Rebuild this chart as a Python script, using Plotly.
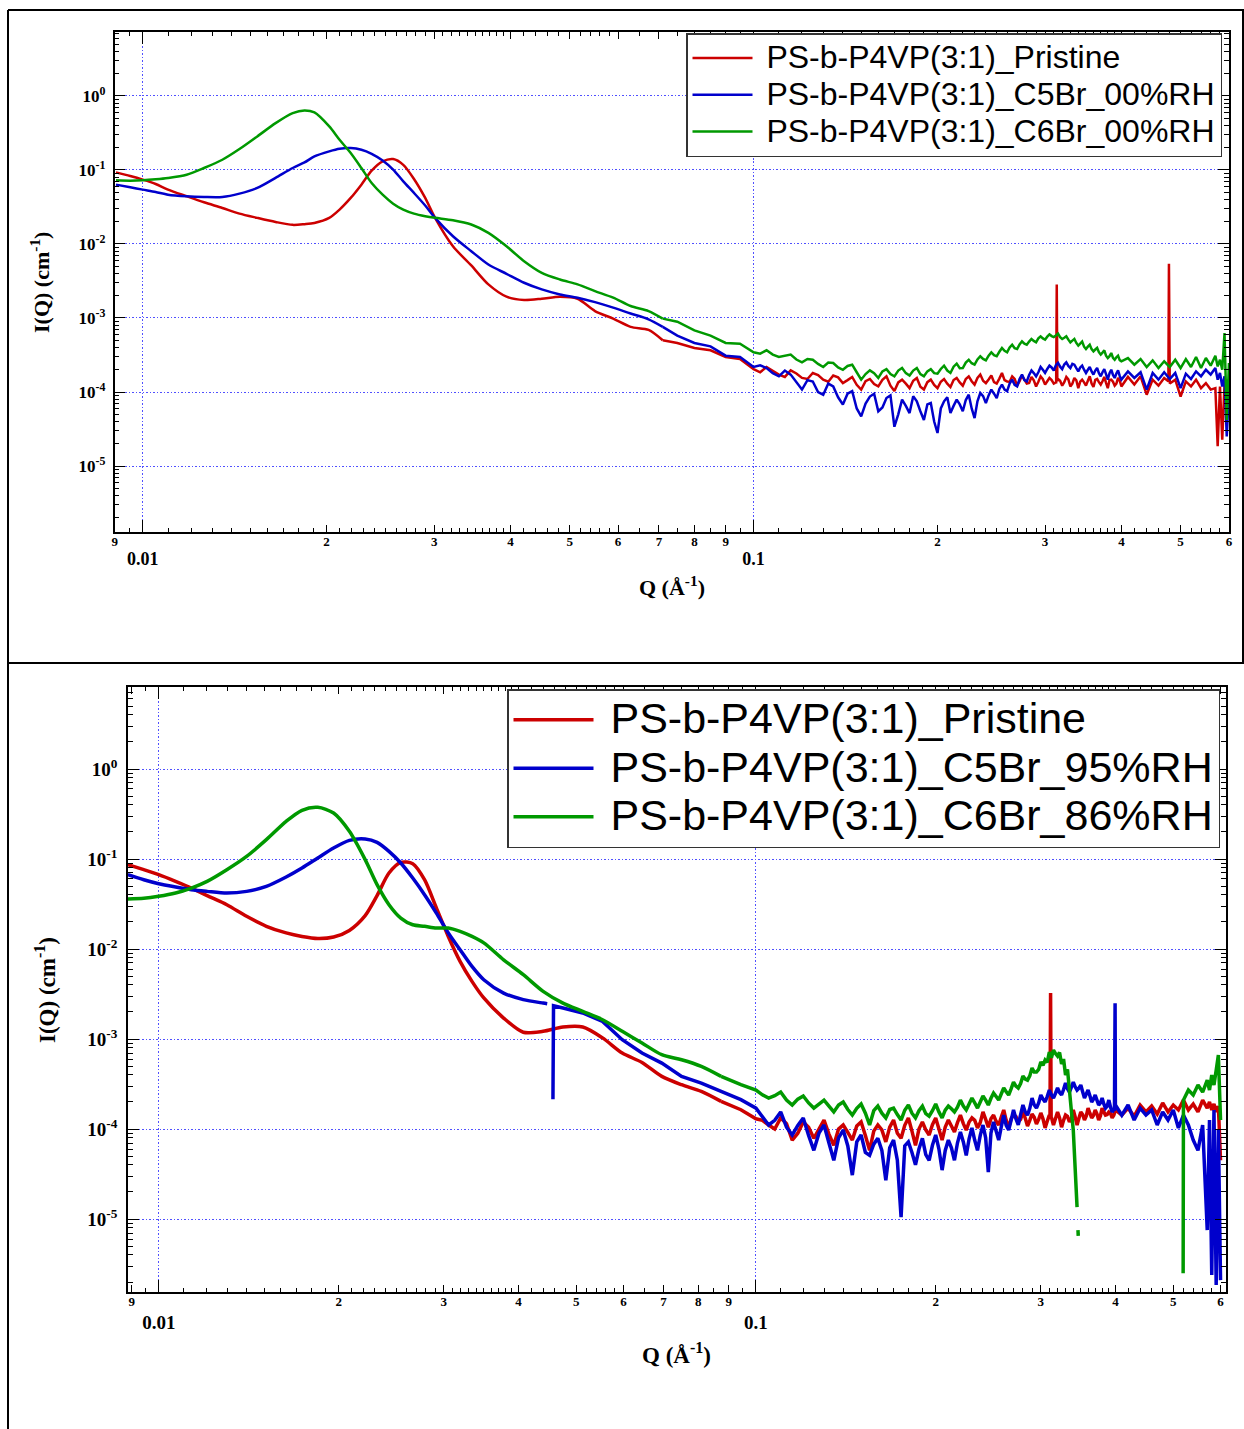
import plotly.graph_objects as go

# ---------------- data : top panel (dry, 00%RH) ----------------
Q_TOP_LOW = [0.00904, 0.00954, 0.0100, 0.0105, 0.0110, 0.0118, 0.0126, 0.0135, 0.0144, 0.0154,
             0.0165, 0.0176, 0.0184, 0.0191, 0.0202, 0.0210, 0.0219, 0.0228, 0.0237, 0.0247,
             0.0257, 0.0267, 0.0278, 0.0290, 0.0301, 0.0322, 0.0345, 0.0368, 0.0394, 0.0421,
             0.0450, 0.0482, 0.0515, 0.0550, 0.0589, 0.0629, 0.0673, 0.0710]
RED_TOP_LOW = [0.0926, 0.0826, 0.0738, 0.0645, 0.0541, 0.0440, 0.0365, 0.0306, 0.0257, 0.0225,
               0.0198, 0.0181, 0.0185, 0.0192, 0.0225, 0.0291, 0.0418, 0.0632, 0.0975, 0.130,
               0.140, 0.117, 0.0753, 0.0418, 0.0225, 0.0093, 0.00512, 0.00284, 0.00194, 0.00175,
               0.00182, 0.00194, 0.00182, 0.00124, 0.00098, 0.00076, 0.00069, 0.00050]
BLUE_TOP_LOW = [0.0632, 0.0582, 0.0541, 0.0503, 0.0463, 0.0440, 0.0431, 0.0431, 0.0478, 0.057,
                0.078, 0.106, 0.126, 0.152, 0.178, 0.193, 0.197, 0.187, 0.165, 0.134,
                0.101, 0.070, 0.0488, 0.033, 0.0225, 0.0127, 0.00798, 0.00527, 0.00395, 0.00299,
                0.00243, 0.00208, 0.00188, 0.00164, 0.00138, 0.00115, 0.00096, 0.00076]
GREEN_TOP_LOW = [0.0723, 0.0715, 0.0723, 0.0745, 0.0777, 0.0861, 0.106, 0.137, 0.191, 0.283,
                 0.428, 0.584, 0.634, 0.596, 0.386, 0.255, 0.169, 0.106, 0.0665, 0.0463,
                 0.035, 0.0291, 0.0257, 0.0237, 0.0225, 0.0209, 0.0183, 0.0141, 0.0093, 0.00585,
                 0.00407, 0.00331, 0.00284, 0.00231, 0.00188, 0.00145, 0.00124, 0.00098]

Q_TOP_HIGH = [0.075, 0.08, 0.085, 0.09, 0.095,
              0.1, 0.105, 0.11, 0.115, 0.12, 0.125, 0.13, 0.135, 0.14, 0.145,
              0.15, 0.155, 0.16, 0.165, 0.17, 0.175, 0.18, 0.185, 0.19, 0.195,
              0.2, 0.205, 0.21, 0.215, 0.22, 0.225, 0.23, 0.235, 0.24, 0.245,
              0.25, 0.255, 0.26, 0.265, 0.27, 0.275, 0.28, 0.285, 0.29, 0.295,
              0.3, 0.305, 0.31, 0.315, 0.32, 0.325, 0.33, 0.335, 0.34, 0.345,
              0.35, 0.355, 0.36, 0.365, 0.37, 0.375, 0.38, 0.385, 0.39, 0.395,
              0.4, 0.41, 0.42, 0.43, 0.44, 0.45, 0.46, 0.47, 0.48, 0.49,
              0.5, 0.51, 0.52, 0.53, 0.54, 0.55, 0.56, 0.57, 0.575, 0.58,
              0.585, 0.59, 0.595, 0.6]
RED_TOP_HIGH = [4.60e-4, 3.94e-4, 3.66e-4, 2.98e-4, 2.79e-4,
                2.04e-4, 2.18e-4, 1.72e-4, 1.96e-4, 1.55e-4, 1.81e-4, 1.47e-4, 1.67e-4, 1.32e-4, 1.60e-4,
                1.08e-4, 1.50e-4, 1.19e-4, 1.63e-4, 1.03e-4, 1.47e-4, 1.13e-4, 1.55e-4, 1.08e-4, 1.47e-4,
                1.13e-4, 1.50e-4, 1.17e-4, 1.55e-4, 1.22e-4, 1.63e-4, 1.26e-4, 1.72e-4, 1.32e-4, 1.67e-4,
                1.30e-4, 1.81e-4, 1.39e-4, 1.63e-4, 1.22e-4, 1.67e-4, 1.30e-4, 1.60e-4, 1.19e-4, 1.63e-4,
                1.26e-4, 1.55e-4, 1.30e-4, 1.50e-4, 1.22e-4, 1.60e-4, 1.19e-4, 1.55e-4, 1.13e-4, 1.47e-4,
                1.22e-4, 1.63e-4, 1.17e-4, 1.50e-4, 1.26e-4, 1.60e-4, 1.13e-4, 1.47e-4, 1.22e-4, 1.55e-4,
                1.19e-4, 1.60e-4, 1.26e-4, 1.63e-4, 9.2e-5, 1.47e-4, 1.22e-4, 1.55e-4, 1.30e-4, 1.47e-4,
                8.7e-5, 1.39e-4, 1.19e-4, 1.47e-4, 1.13e-4, 1.32e-4, 1.08e-4, 1.13e-4, 1.85e-5, 1.19e-4,
                2.27e-5, 1.26e-4, 1.47e-4, 1.08e-4]
BLUE_TOP_HIGH = [5.77e-4, 4.60e-4, 4.14e-4, 3.10e-4, 2.97e-4,
                 2.18e-4, 2.11e-4, 1.63e-4, 1.72e-4, 1.08e-4, 1.39e-4, 9.2e-5, 1.19e-4, 6.8e-5, 1.03e-4,
                 4.7e-5, 8.7e-5, 5.5e-5, 8.3e-5, 3.4e-5, 7.9e-5, 5.2e-5, 7.5e-5, 4.2e-5, 7.1e-5,
                 2.8e-5, 7.5e-5, 5.2e-5, 7.9e-5, 5.5e-5, 9.2e-5, 4.45e-5, 9.7e-5, 7.1e-5, 1.08e-4,
                 8.3e-5, 1.26e-4, 1.03e-4, 1.47e-4, 1.19e-4, 1.72e-4, 1.39e-4, 1.96e-4, 1.63e-4, 2.18e-4,
                 1.81e-4, 2.27e-4, 1.96e-4, 2.47e-4, 2.04e-4, 2.52e-4, 2.11e-4, 2.34e-4, 1.90e-4, 2.27e-4,
                 1.81e-4, 2.18e-4, 1.72e-4, 2.11e-4, 1.63e-4, 2.04e-4, 1.47e-4, 2.00e-4, 1.55e-4, 1.96e-4,
                 1.47e-4, 1.90e-4, 1.55e-4, 1.85e-4, 1.08e-4, 1.81e-4, 1.47e-4, 1.85e-4, 1.50e-4, 1.81e-4,
                 1.13e-4, 1.77e-4, 1.50e-4, 1.90e-4, 1.63e-4, 2.00e-4, 1.72e-4, 2.11e-4, 1.47e-4, 1.81e-4,
                 1.19e-4, 1.63e-4, 2.52e-5, 1.08e-4]
GREEN_TOP_HIGH = [8.9e-4, 6.8e-4, 5.77e-4, 4.60e-4, 4.50e-4,
                  3.44e-4, 3.66e-4, 2.97e-4, 3.20e-4, 2.52e-4, 2.73e-4, 2.18e-4, 2.47e-4, 2.00e-4, 2.34e-4,
                  1.47e-4, 1.96e-4, 1.55e-4, 2.04e-4, 1.63e-4, 2.11e-4, 1.67e-4, 2.11e-4, 1.63e-4, 2.04e-4,
                  1.77e-4, 2.27e-4, 1.81e-4, 2.42e-4, 2.11e-4, 2.73e-4, 2.34e-4, 3.04e-4, 2.68e-4, 3.44e-4,
                  3.04e-4, 3.94e-4, 3.44e-4, 4.36e-4, 3.81e-4, 4.84e-4, 4.36e-4, 5.20e-4, 4.69e-4, 5.65e-4,
                  5.10e-4, 6.01e-4, 5.53e-4, 6.14e-4, 5.20e-4, 5.65e-4, 4.69e-4, 5.20e-4, 4.23e-4, 4.79e-4,
                  3.81e-4, 4.36e-4, 3.55e-4, 3.94e-4, 3.20e-4, 3.66e-4, 2.88e-4, 3.37e-4, 2.73e-4, 3.10e-4,
                  2.60e-4, 2.88e-4, 2.34e-4, 2.79e-4, 2.18e-4, 2.68e-4, 2.11e-4, 2.60e-4, 2.18e-4, 2.73e-4,
                  2.11e-4, 2.79e-4, 2.18e-4, 2.97e-4, 2.11e-4, 2.88e-4, 2.27e-4, 3.10e-4, 2.22e-4, 2.73e-4,
                  2.00e-4, 6.27e-4, 4.2e-5, 2.47e-4]

# in-between scattering points 0.1025 ... 0.3975 (shared q for both panels)
Q_MID = [0.1025, 0.1075, 0.1125, 0.1175, 0.1225, 0.1275, 0.1325, 0.1375, 0.1425, 0.1475,
         0.1525, 0.1575, 0.1625, 0.1675, 0.1725, 0.1775, 0.1825, 0.1875, 0.1925, 0.1975,
         0.2025, 0.2075, 0.2125, 0.2175, 0.2225, 0.2275, 0.2325, 0.2375, 0.2425, 0.2475,
         0.2525, 0.2575, 0.2625, 0.2675, 0.2725, 0.2775, 0.2825, 0.2875, 0.2925, 0.2975,
         0.3025, 0.3075, 0.3125, 0.3175, 0.3225, 0.3275, 0.3325, 0.3375, 0.3425, 0.3475,
         0.3525, 0.3575, 0.3625, 0.3675, 0.3725, 0.3775, 0.3825, 0.3875, 0.3925, 0.3975]
RED_TOP_MID = [1.85e-4, 1.95e-4, 1.60e-4, 1.78e-4, 1.50e-4, 1.70e-4, 1.38e-4, 1.58e-4, 1.45e-4, 1.25e-4,
               1.40e-4, 1.28e-4, 1.46e-4, 1.22e-4, 1.35e-4, 1.30e-4, 1.42e-4, 1.18e-4, 1.36e-4, 1.25e-4,
               1.38e-4, 1.30e-4, 1.45e-4, 1.35e-4, 1.50e-4, 1.40e-4, 1.55e-4, 1.42e-4, 1.48e-4, 1.36e-4,
               1.52e-4, 1.45e-4, 1.38e-4, 1.50e-4, 1.40e-4, 1.47e-4, 1.33e-4, 1.44e-4, 1.38e-4, 1.49e-4,
               1.40e-4, 1.45e-4, 1.35e-4, 1.42e-4, 1.36e-4, 1.48e-4, 1.30e-4, 1.44e-4, 1.38e-4, 1.35e-4,
               1.42e-4, 1.30e-4, 1.46e-4, 1.36e-4, 1.40e-4, 1.33e-4, 1.45e-4, 1.38e-4, 1.30e-4, 1.42e-4]
BLUE_TOP_MID = [2.3e-4, 1.8e-4, 1.95e-4, 1.35e-4, 1.45e-4, 1.0e-4, 1.3e-4, 8.5e-5, 9.5e-5, 6.0e-5,
                7.0e-5, 9.5e-5, 6.2e-5, 9.0e-5, 5.0e-5, 6.5e-5, 8.8e-5, 5.5e-5, 6.8e-5, 4.0e-5,
                6.0e-5, 8.5e-5, 6.5e-5, 6.8e-5, 7.8e-5, 6.0e-5, 7.5e-5, 8.8e-5, 9.0e-5, 9.5e-5,
                1.10e-4, 1.08e-4, 1.30e-4, 1.25e-4, 1.50e-4, 1.45e-4, 1.70e-4, 1.80e-4, 1.85e-4, 2.0e-4,
                2.05e-4, 2.15e-4, 2.3e-4, 2.2e-4, 2.35e-4, 2.25e-4, 2.4e-4, 2.1e-4, 2.15e-4, 2.0e-4,
                2.0e-4, 1.9e-4, 1.95e-4, 1.8e-4, 1.85e-4, 1.75e-4, 1.8e-4, 1.7e-4, 1.78e-4, 1.65e-4]
GREEN_TOP_MID = [3.3e-4, 3.2e-4, 3.1e-4, 2.75e-4, 2.8e-4, 2.4e-4, 2.5e-4, 2.15e-4, 2.25e-4, 1.85e-4,
                 1.75e-4, 1.8e-4, 1.9e-4, 1.75e-4, 1.95e-4, 1.8e-4, 1.95e-4, 1.75e-4, 1.9e-4, 1.8e-4,
                 2.05e-4, 1.95e-4, 2.2e-4, 2.1e-4, 2.5e-4, 2.45e-4, 2.75e-4, 2.8e-4, 3.1e-4, 3.15e-4,
                 3.5e-4, 3.6e-4, 4.0e-4, 3.9e-4, 4.4e-4, 4.5e-4, 4.8e-4, 4.9e-4, 5.3e-4, 5.3e-4,
                 5.6e-4, 5.7e-4, 5.8e-4, 5.5e-4, 5.4e-4, 5.1e-4, 4.95e-4, 4.6e-4, 4.5e-4, 4.1e-4,
                 4.1e-4, 3.8e-4, 3.75e-4, 3.45e-4, 3.4e-4, 3.1e-4, 3.05e-4, 2.9e-4, 2.95e-4, 2.7e-4]
RED_TOP_SPIKE_Q = [0.3128, 0.3135, 0.3142, 0.4775, 0.4785, 0.4795]
RED_TOP_SPIKE_I = [1.3e-4, 2.84e-3, 1.4e-4, 1.4e-4, 5.4e-3, 1.4e-4]

# ---------------- data : bottom panel (humid) ----------------
Q_BOT_LOW = [0.00887, 0.00943, 0.00999, 0.01066, 0.01133, 0.01204, 0.01299, 0.01402, 0.01513, 0.01633,
             0.01736, 0.01845, 0.01961, 0.02084, 0.02215, 0.02319, 0.02428, 0.02541, 0.02661, 0.02785,
             0.02915, 0.03052, 0.03194, 0.03344, 0.03500, 0.03778, 0.04076, 0.04400, 0.04750, 0.05126,
             0.05533, 0.05970, 0.06443, 0.06954, 0.07505, 0.08099, 0.08741, 0.09434]
RED_BOT_LOW = [0.0865, 0.0761, 0.0670, 0.0565, 0.0476, 0.0392, 0.0311, 0.0231, 0.0179, 0.0151,
               0.0138, 0.0131, 0.0136, 0.0161, 0.0235, 0.0392, 0.0699, 0.0918, 0.0888, 0.0589,
               0.0286, 0.0138, 0.0073, 0.00437, 0.00286, 0.00171, 0.00119, 0.00122, 0.00136, 0.00136,
               0.00103, 0.000699, 0.00055, 0.000385, 0.000311, 0.000262, 0.000203, 0.000164]
BLUE_BOT_LOW = [0.0670, 0.0589, 0.0532, 0.0489, 0.0456, 0.0437, 0.0419, 0.0437, 0.0497, 0.0631,
                0.0794, 0.1026, 0.1324, 0.161, 0.167, 0.153, 0.1216, 0.0903, 0.0615, 0.0402,
                0.0251, 0.0151, 0.00984, 0.00641, 0.00456, 0.00324, 0.00274, 0.00251, 0.00221, 0.00195,
                0.00157, 0.000984, 0.000699, 0.000541, 0.000385, 0.000324, 0.000262, 0.000212]
GREEN_BOT_LOW = [0.0360, 0.0366, 0.0385, 0.0419, 0.0476, 0.0565, 0.0761, 0.107, 0.164, 0.262,
                 0.348, 0.375, 0.324, 0.203, 0.0984, 0.0519, 0.0311, 0.0221, 0.0186, 0.0179,
                 0.0171, 0.0171, 0.0157, 0.0138, 0.0117, 0.0076, 0.00519, 0.00339, 0.00251, 0.00203,
                 0.00164, 0.00122, 0.000904, 0.00067, 0.000589, 0.000497, 0.000385, 0.000311]

Q_BOT_HIGH = [0.1, 0.105, 0.11, 0.115, 0.12, 0.125, 0.13, 0.135, 0.14, 0.145,
              0.15, 0.155, 0.16, 0.165, 0.17, 0.175, 0.18, 0.185, 0.19, 0.195,
              0.2, 0.205, 0.21, 0.215, 0.22, 0.225, 0.23, 0.235, 0.24, 0.245,
              0.25, 0.255, 0.26, 0.265, 0.27, 0.275, 0.28, 0.285, 0.29, 0.295,
              0.3, 0.305, 0.31, 0.315, 0.32, 0.325, 0.33, 0.335, 0.34, 0.345,
              0.35, 0.355, 0.36, 0.365, 0.37, 0.375, 0.38, 0.385, 0.39, 0.395,
              0.4, 0.41, 0.42, 0.43, 0.44, 0.45, 0.46, 0.47, 0.48, 0.49,
              0.5, 0.51, 0.52, 0.53, 0.54, 0.55, 0.56, 0.57,
              0.575, 0.58, 0.585, 0.59, 0.595, 0.6]
RED_BOT_HIGH = [1.30e-4, 1.11e-4, 1.33e-4, 7.55e-5, 1.20e-4, 7.9e-5, 1.26e-4, 6.6e-5, 1.11e-4, 7.55e-5,
                1.20e-4, 5.8e-5, 1.11e-4, 7.2e-5, 1.26e-4, 7.9e-5, 1.33e-4, 6.6e-5, 1.20e-4, 8.6e-5,
                1.33e-4, 7.55e-5, 1.26e-4, 9.3e-5, 1.43e-4, 9.75e-5, 1.33e-4, 1.03e-4, 1.55e-4, 1.05e-4,
                1.43e-4, 1.11e-4, 1.63e-4, 1.03e-4, 1.43e-4, 1.20e-4, 1.55e-4, 1.08e-4, 1.47e-4, 1.14e-4,
                1.51e-4, 1.03e-4, 1.43e-4, 1.11e-4, 1.55e-4, 1.05e-4, 1.43e-4, 1.20e-4, 1.63e-4, 1.11e-4,
                1.55e-4, 1.26e-4, 1.71e-4, 1.33e-4, 1.63e-4, 1.26e-4, 1.71e-4, 1.43e-4, 1.55e-4, 1.33e-4,
                1.63e-4, 1.43e-4, 1.71e-4, 1.39e-4, 1.85e-4, 1.55e-4, 1.80e-4, 1.47e-4, 1.95e-4, 1.55e-4,
                1.85e-4, 1.63e-4, 2.10e-4, 1.63e-4, 1.90e-4, 1.55e-4, 2.10e-4, 1.71e-4,
                2.0e-4, 1.63e-4, 1.90e-4, 1.55e-4, 1.80e-4, 4.5e-5]
BLUE_BOT_HIGH = [1.71e-4, 1.11e-4, 1.55e-4, 8.6e-5, 1.33e-4, 5.8e-5, 1.11e-4, 4.5e-5, 9.75e-5, 3.08e-5,
                 8.6e-5, 5.1e-5, 7.9e-5, 2.7e-5, 7.55e-5, 1.05e-5, 7.2e-5, 4.0e-5, 7.9e-5, 4.5e-5,
                 8.6e-5, 3.5e-5, 7.55e-5, 4.5e-5, 9.3e-5, 5.1e-5, 1.03e-4, 5.8e-5, 1.11e-4, 3.33e-5,
                 1.20e-4, 7.55e-5, 1.43e-4, 9.75e-5, 1.63e-4, 1.11e-4, 1.85e-4, 1.43e-4, 2.21e-4, 1.71e-4,
                 2.39e-4, 2.0e-4, 2.71e-4, 2.21e-4, 2.86e-4, 2.39e-4, 3.24e-4, 2.58e-4, 3.33e-4, 2.71e-4,
                 3.08e-4, 2.21e-4, 2.71e-4, 2.0e-4, 2.39e-4, 1.85e-4, 2.21e-4, 1.71e-4, 2.10e-4, 1.55e-4,
                 1.85e-4, 1.43e-4, 1.85e-4, 1.26e-4, 1.71e-4, 1.43e-4, 1.63e-4, 1.11e-4, 1.55e-4, 1.26e-4,
                 1.63e-4, 1.03e-4, 1.43e-4, 1.11e-4, 7.55e-5, 5.8e-5, 1.11e-4, 7.55e-6,
                 1.26e-4, 2.39e-6, 1.63e-4, 1.85e-6, 9.75e-5, 2.1e-6]
GREEN_BOT_HIGH = [2.71e-4, 2.21e-4, 2.58e-4, 1.85e-4, 2.33e-4, 1.71e-4, 2.10e-4, 1.55e-4, 2.0e-4, 1.43e-4,
                  1.90e-4, 1.11e-4, 1.80e-4, 1.33e-4, 1.71e-4, 1.26e-4, 1.85e-4, 1.33e-4, 1.80e-4, 1.39e-4,
                  1.90e-4, 1.33e-4, 1.80e-4, 1.55e-4, 2.10e-4, 1.63e-4, 2.21e-4, 1.71e-4, 2.33e-4, 1.85e-4,
                  2.51e-4, 2.10e-4, 2.86e-4, 2.39e-4, 3.33e-4, 2.86e-4, 3.88e-4, 3.5e-4, 4.76e-4, 4.30e-4,
                  5.55e-4, 5.85e-4, 7.18e-4, 7.55e-4, 6.47e-4, 5.28e-4, 3.98e-4, 2.39e-4, 9.75e-5, 1.36e-5,
                  None, None, None, None, None, None, None, None, None, None,
                  None, None, None, None, None, None, None, None, None, None,
                  None, None, 2.10e-4, 2.71e-4, 2.39e-4, 3.08e-4, 2.58e-4, 3.5e-4,
                  2.71e-4, 3.98e-4, 3.08e-4, 4.5e-4, 6.65e-4, 1.26e-4]
RED_BOT_MID = [1.25e-4, 1.0e-4, 1.15e-4, 9.0e-5, 1.05e-4, 9.8e-5, 8.8e-5, 1.0e-4, 9.2e-5, 1.08e-4,
               8.5e-5, 9.5e-5, 9.8e-5, 1.05e-4, 9.0e-5, 1.10e-4, 9.5e-5, 1.0e-4, 9.8e-5, 1.12e-4,
               1.0e-4, 1.05e-4, 1.08e-4, 1.18e-4, 1.15e-4, 1.2e-4, 1.25e-4, 1.18e-4, 1.28e-4, 1.3e-4,
               1.22e-4, 1.35e-4, 1.25e-4, 1.3e-4, 1.38e-4, 1.28e-4, 1.32e-4, 1.25e-4, 1.35e-4, 1.28e-4,
               1.3e-4, 1.22e-4, 1.35e-4, 1.28e-4, 1.33e-4, 1.25e-4, 1.38e-4, 1.3e-4, 1.36e-4, 1.32e-4,
               1.45e-4, 1.4e-4, 1.5e-4, 1.42e-4, 1.48e-4, 1.4e-4, 1.55e-4, 1.45e-4, 1.5e-4, 1.42e-4]
BLUE_BOT_MID = [1.35e-4, 1.25e-4, 1.05e-4, 1.1e-4, 8.5e-5, 9.0e-5, 7.0e-5, 8.0e-5, 6.5e-5, 7.2e-5,
                5.5e-5, 6.8e-5, 5.8e-5, 6.2e-5, 4.5e-5, 6.5e-5, 5.5e-5, 6.0e-5, 5.2e-5, 6.6e-5,
                6.0e-5, 5.8e-5, 6.2e-5, 7.0e-5, 7.2e-5, 7.8e-5, 7.5e-5, 8.5e-5, 8.0e-5, 9.0e-5,
                9.5e-5, 1.05e-4, 1.1e-4, 1.25e-4, 1.3e-4, 1.45e-4, 1.55e-4, 1.7e-4, 1.85e-4, 1.95e-4,
                2.15e-4, 2.3e-4, 2.4e-4, 2.5e-4, 2.55e-4, 2.75e-4, 2.8e-4, 2.9e-4, 2.95e-4, 2.85e-4,
                2.6e-4, 2.45e-4, 2.35e-4, 2.15e-4, 2.1e-4, 1.95e-4, 1.9e-4, 1.8e-4, 1.75e-4, 1.65e-4]
GREEN_BOT_MID = [2.4e-4, 2.35e-4, 2.1e-4, 2.15e-4, 1.95e-4, 1.9e-4, 1.8e-4, 1.85e-4, 1.65e-4, 1.7e-4,
                 1.5e-4, 1.6e-4, 1.5e-4, 1.65e-4, 1.45e-4, 1.62e-4, 1.5e-4, 1.6e-4, 1.48e-4, 1.6e-4,
                 1.55e-4, 1.62e-4, 1.68e-4, 1.75e-4, 1.8e-4, 1.9e-4, 1.95e-4, 2.0e-4, 2.1e-4, 2.2e-4,
                 2.3e-4, 2.45e-4, 2.6e-4, 2.8e-4, 3.0e-4, 3.2e-4, 3.6e-4, 3.9e-4, 4.3e-4, 4.6e-4,
                 5.1e-4, 5.5e-4, 6.2e-4, 6.9e-4, 7.1e-4, 6.0e-4, 4.6e-4, 1.6e-4, 4.2e-5, None,
                 None, None, None, None, None, None, None, None, None, None]
RED_BOT_EXTRA_Q = [0.3108, 0.3115, 0.3122]
RED_BOT_EXTRA_I = [1.4e-4, 3.24e-3, 1.3e-4]
BLUE_BOT_EXTRA_Q = [0.0447, 0.0452, 0.0457, 0.0458, 0.3985, 0.3995]
BLUE_BOT_EXTRA_I = [2.47e-3, None, 2.15e-4, 2.34e-3, 1.6e-4, 2.5e-3]
GREEN_BOT_EXTRA_Q = [0.3456, 0.3462, 0.3466, 0.5194]
GREEN_BOT_EXTRA_I = [None, 7.55e-6, 6.5e-6, 2.5e-6]

LABELS_TOP = ["PS-b-P4VP(3:1)_Pristine", "PS-b-P4VP(3:1)_C5Br_00%RH", "PS-b-P4VP(3:1)_C6Br_00%RH"]
LABELS_BOT = ["PS-b-P4VP(3:1)_Pristine", "PS-b-P4VP(3:1)_C5Br_95%RH", "PS-b-P4VP(3:1)_C6Br_86%RH"]
COLORS = ["#cc0000", "#0000cc", "#009900"]

X_DIGIT_VALS = [0.009, 0.02, 0.03, 0.04, 0.05, 0.06, 0.07, 0.08, 0.09, 0.2, 0.3, 0.4, 0.5, 0.6]
X_DIGIT_TEXT = ["9", "2", "3", "4", "5", "6", "7", "8", "9", "2", "3", "4", "5", "6"]
X_DECADE_VALS = [0.01, 0.1]
X_DECADE_TEXT = ["0.01", "0.1"]
Y_DECADE_VALS = [1e-5, 1e-4, 1e-3, 1e-2, 1e-1, 1e0]
Y_DECADE_TEXT = ["10<sup>-5</sup>", "10<sup>-4</sup>", "10<sup>-3</sup>",
                 "10<sup>-2</sup>", "10<sup>-1</sup>", "10<sup>0</sup>"]


def join(q_parts, i_parts):
    q = [v for part in q_parts for v in part]
    i = [v for part in i_parts for v in part]
    pts = sorted(zip(q, i), key=lambda p: p[0])
    return [p[0] for p in pts], [p[1] for p in pts]


def split(q, i, qsplit):
    """smooth low-q part (spline) and noisy high-q part (straight segments), sharing one point"""
    k = max(n for n, v in enumerate(q) if v <= qsplit)
    return (q[:k + 1], i[:k + 1]), (q[k:], i[k:])


top_series = [
    join([Q_TOP_LOW, Q_TOP_HIGH, Q_MID, RED_TOP_SPIKE_Q],
         [RED_TOP_LOW, RED_TOP_HIGH, RED_TOP_MID, RED_TOP_SPIKE_I]),
    join([Q_TOP_LOW, Q_TOP_HIGH, Q_MID], [BLUE_TOP_LOW, BLUE_TOP_HIGH, BLUE_TOP_MID]),
    join([Q_TOP_LOW, Q_TOP_HIGH, Q_MID], [GREEN_TOP_LOW, GREEN_TOP_HIGH, GREEN_TOP_MID]),
]
bot_series = [
    join([Q_BOT_LOW, Q_BOT_HIGH, Q_MID, RED_BOT_EXTRA_Q],
         [RED_BOT_LOW, RED_BOT_HIGH, RED_BOT_MID, RED_BOT_EXTRA_I]),
    join([Q_BOT_LOW, Q_BOT_HIGH, Q_MID, BLUE_BOT_EXTRA_Q],
         [BLUE_BOT_LOW, BLUE_BOT_HIGH, BLUE_BOT_MID, BLUE_BOT_EXTRA_I]),
    join([Q_BOT_LOW, Q_BOT_HIGH, Q_MID, GREEN_BOT_EXTRA_Q],
         [GREEN_BOT_LOW, GREEN_BOT_HIGH, GREEN_BOT_MID, GREEN_BOT_EXTRA_I]),
]
TOP_SPLIT = [0.071, 0.071, 0.071]
BOT_SPLIT = [0.0943, 0.0447, 0.0943]

fig = go.Figure()


def add_panel(series, labels, splits, xa, ya, leg, width, size):
    for (q, i), name, c, qs in zip(series, labels, COLORS, splits):
        (ql, il), (qh, ih) = split(q, i, qs)
        text = '<span style="font-size:%dpx">\u00a0%s</span>' % (size, name)
        fig.add_trace(go.Scatter(x=ql, y=il, mode="lines", name=text, legendgroup=leg + name,
                                 line=dict(color=c, width=width, shape="spline", smoothing=0.8),
                                 xaxis=xa, yaxis=ya, legend=leg))
        fig.add_trace(go.Scatter(x=qh, y=ih, mode="lines", name=text, legendgroup=leg + name,
                                 showlegend=False, line=dict(color=c, width=width),
                                 xaxis=xa, yaxis=ya, legend=leg))


add_panel(top_series, LABELS_TOP, TOP_SPLIT, "x", "y", "legend", 2.5, 32)
add_panel(bot_series, LABELS_BOT, BOT_SPLIT, "x2", "y2", "legend2", 3.5, 43)
# empty traces so that the overlaid tick axes get drawn
fig.add_trace(go.Scatter(x=[], y=[], xaxis="x3", yaxis="y", showlegend=False, hoverinfo="skip"))
fig.add_trace(go.Scatter(x=[], y=[], xaxis="x4", yaxis="y2", showlegend=False, hoverinfo="skip"))

# minor tick positions (axis styling)
x_minor = []
for e in (-3, -2, -1):
    for m in [1.1, 1.2, 1.3, 1.4, 1.5, 1.6, 1.7, 1.8, 1.9, 2.1, 2.2, 2.3, 2.4, 2.5, 2.6, 2.7, 2.8, 2.9,
              3.1, 3.2, 3.3, 3.4, 3.5, 3.6, 3.7, 3.8, 3.9, 4.2, 4.4, 4.6, 4.8, 5.2, 5.4, 5.6, 5.8,
              6.5, 7.5, 8.5, 9.5]:
        x_minor.append(m * 10.0 ** e)
y_minor = [m * 10.0 ** e for e in range(-7, 1) for m in range(2, 10)]

W, H = 1244, 1429
SERIF = "Liberation Serif, Times New Roman, serif"
GRID = "#5050ff"
GRID_DASH = "1.5px,2px"


def px_x(v):
    return v / W


def px_y(v):
    return 1 - v / H


def main_x(domain, rng, anchor, size, standoff):
    return dict(type="log", domain=domain, range=rng, anchor=anchor, tickmode="array",
                tickvals=X_DECADE_VALS, ticktext=X_DECADE_TEXT, ticks="inside", ticklen=12,
                tickwidth=1.2, tickcolor="black", showline=True, linecolor="black", linewidth=1.5,
                mirror="ticks", showgrid=True, gridcolor=GRID, griddash=GRID_DASH, gridwidth=1,
                zeroline=False, ticklabelstandoff=standoff, automargin=False,
                tickfont=dict(family=SERIF, size=size, color="black", weight="bold"))


def digit_x(over, anchor, rng):
    return dict(type="log", overlaying=over, anchor=anchor, range=rng, tickmode="array",
                tickvals=X_DIGIT_VALS, ticktext=X_DIGIT_TEXT, ticks="inside", ticklen=7,
                tickwidth=1.2, tickcolor="black", mirror="ticks", showline=False,
                showgrid=False, zeroline=False, automargin=False,
                tickfont=dict(family=SERIF, size=13, color="black", weight="bold"),
                minor=dict(tickmode="array", tickvals=x_minor, ticks="inside", ticklen=4,
                           tickcolor="black", tickwidth=1, showgrid=False))


def main_y(domain, rng, anchor, size, standoff):
    return dict(type="log", domain=domain, range=rng, anchor=anchor, tickmode="array",
                tickvals=Y_DECADE_VALS, ticktext=Y_DECADE_TEXT, ticks="inside", ticklen=11,
                tickwidth=1.2, tickcolor="black", showline=True, linecolor="black", linewidth=1.5,
                mirror="ticks", showgrid=True, gridcolor=GRID, griddash=GRID_DASH, gridwidth=1,
                zeroline=False, ticklabelstandoff=standoff, automargin=False,
                tickfont=dict(family=SERIF, size=size, color="black", weight="bold"),
                minor=dict(tickmode="array", tickvals=y_minor, ticks="inside", ticklen=5,
                           tickcolor="black", tickwidth=1, showgrid=False))


top_xr = [-2.0462, -0.2218]
bot_xr = [-2.0519, -0.2127]
top_yr = [-5.89, 0.862]
bot_yr = [-5.81, 0.911]

fig.update_layout(
    width=W, height=H, margin=dict(l=0, r=0, t=0, b=0, pad=0, autoexpand=False),
    paper_bgcolor="white", plot_bgcolor="white", hovermode=False,
    xaxis=main_x([px_x(114.5), px_x(1229)], top_xr, "y", 18, 10),
    yaxis=main_y([px_y(532), px_y(32)], top_yr, "x", 17, 4),
    xaxis3=digit_x("x", "y", top_xr),
    xaxis2=main_x([px_x(128), px_x(1226)], bot_xr, "y2", 19, 12),
    yaxis2=main_y([px_y(1292), px_y(687)], bot_yr, "x2", 19, 5),
    xaxis4=digit_x("x2", "y2", bot_xr),
    legend=dict(x=px_x(1222), xanchor="right", y=px_y(33), yanchor="top",
                font=dict(family="Liberation Sans, Arial, sans-serif", size=26, color="black"),
                bordercolor="#333333", borderwidth=1.5, bgcolor="white", itemwidth=60,
                tracegroupgap=0),
    legend2=dict(x=px_x(1220), xanchor="right", y=px_y(689), yanchor="top",
                 font=dict(family="Liberation Sans, Arial, sans-serif", size=35, color="black"),
                 bordercolor="#333333", borderwidth=1.5, bgcolor="white", itemwidth=80,
                 tracegroupgap=0),
)

fig.add_annotation(text="Q (Å<sup>-1</sup>)", xref="paper", yref="paper", x=px_x(672), y=px_y(586),
                   showarrow=False, font=dict(family=SERIF, size=22, color="black", weight="bold"),
                   xanchor="center", yanchor="middle")
fig.add_annotation(text="Q (Å<sup>-1</sup>)", xref="paper", yref="paper", x=px_x(677), y=px_y(1353),
                   showarrow=False, font=dict(family=SERIF, size=23, color="black", weight="bold"),
                   xanchor="center", yanchor="middle")
fig.add_annotation(text="I(Q) (cm<sup>-1</sup>)", xref="paper", yref="paper", x=px_x(40), y=px_y(283),
                   showarrow=False, font=dict(family=SERIF, size=22, color="black", weight="bold"),
                   textangle=-90, xanchor="center", yanchor="middle")
fig.add_annotation(text="I(Q) (cm<sup>-1</sup>)", xref="paper", yref="paper", x=px_x(45), y=px_y(990),
                   showarrow=False, font=dict(family=SERIF, size=23, color="black", weight="bold"),
                   textangle=-90, xanchor="center", yanchor="middle")

frame = dict(color="black", width=2)
fig.add_shape(type="line", xref="paper", yref="paper", x0=px_x(8), x1=1, y0=px_y(10), y1=px_y(10), line=frame)
fig.add_shape(type="line", xref="paper", yref="paper", x0=px_x(8), x1=px_x(8), y0=0, y1=px_y(10), line=frame)
fig.add_shape(type="line", xref="paper", yref="paper", x0=px_x(8), x1=1, y0=px_y(663), y1=px_y(663), line=frame)
fig.add_shape(type="line", xref="paper", yref="paper", x0=px_x(1243), x1=px_x(1243), y0=px_y(663), y1=px_y(10), line=frame)

fig.write_html("out.html")
